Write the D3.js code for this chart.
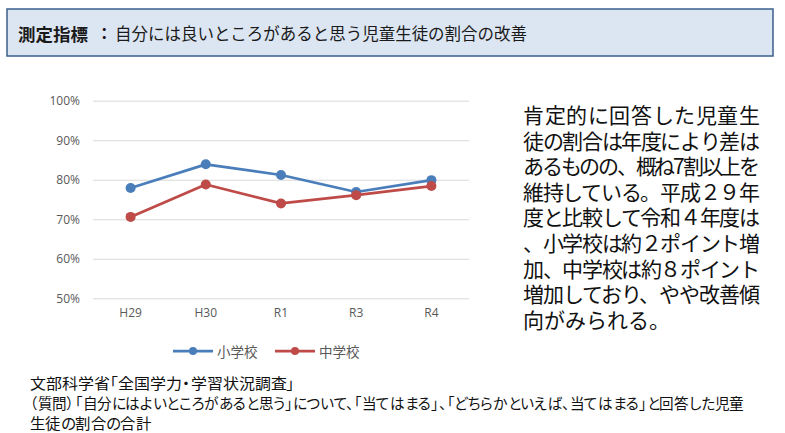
<!DOCTYPE html>
<html>
<head>
<meta charset="utf-8">
<script src="https://cdn.jsdelivr.net/npm/d3@7"></script>
<style>
  @font-face {
    font-family: "CJK Tight";
    src: local("Noto Sans CJK JP"), local("Noto Sans CJK JP Regular"), local("NotoSansCJKjp-Regular");
    ascent-override: 92%;
    descent-override: 24%;
    line-gap-override: 0%;
  }
  body { margin: 0; background: #fff; }
  text { font-family: "Noto Sans CJK JP", "Noto Sans", sans-serif; }
  .palt { font-feature-settings: "palt"; }
  .tight { font-family: "CJK Tight", "Noto Sans CJK JP", sans-serif; }
</style>
</head>
<body>
<div id="chart"></div>
<script>
// data
var years = ["H29", "H30", "R1", "R3", "R4"],
  elementary = [0.779, 0.839, 0.812, 0.769, 0.799],
  juniorHigh = [0.706, 0.788, 0.740, 0.761, 0.784],
  yTicks = [0.5, 0.6, 0.7, 0.8, 0.9, 1.0];

var seriesNames = ["小学校", "中学校"],
  seriesColors = ["#4A7EBB", "#BE4B48"];

var titleHead = "測定指標",
  titleBody = "自分には良いところがあると思う児童生徒の割合の改善";

var commentLines = [
  "肯定的に回答した児童生",
  "徒の割合は年度により差は",
  "あるものの、概ね7割以上を",
  "維持している。平成２９年",
  "度と比較して令和４年度は",
  "、小学校は約２ポイント増",
  "加、中学校は約８ポイント",
  "増加しており、やや改善傾",
  "向がみられる。"
];

var sourceLines = [
  "文部科学省「全国学力・学習状況調査」",
  "（質問）「自分にはよいところがあると思う」について、「当てはまる」、「どちらかといえば、当てはまる」と回答した児童",
  "生徒の割合の合計"
];

// layout
var W = 785, H = 433;
var plotL = 93, plotR = 469, plotT = 100.7, plotB = 298.3;

var svg = d3.select("#chart").append("svg")
  .attr("width", W)
  .attr("height", H);

svg.append("rect").attr("width", W).attr("height", H).attr("fill", "#fff");

// title box
svg.append("rect")
  .attr("x", 7).attr("y", 9)
  .attr("width", 766).attr("height", 47)
  .attr("fill", "#DCE6F2")
  .attr("stroke", "#3B5F8C")
  .attr("stroke-width", 1.5);

var title = svg.append("text")
  .attr("y", 33)
  .attr("dominant-baseline", "central")
  .attr("fill", "#1a1a1a");

title.append("tspan")
  .attr("x", 18)
  .attr("font-size", 17).attr("font-weight", "bold")
  .attr("textLength", 70).attr("lengthAdjust", "spacingAndGlyphs")
  .text(titleHead);
title.append("tspan")
  .attr("x", 96)
  .attr("font-size", 16.5).attr("font-weight", "bold")
  .text("：");
title.append("tspan")
  .attr("x", 115)
  .attr("font-size", 16.5)
  .attr("textLength", 412).attr("lengthAdjust", "spacingAndGlyphs")
  .text(titleBody);

// scales
var x = d3.scaleBand().domain(years).range([plotL, plotR]).padding(0);
var y = d3.scaleLinear().domain([0.5, 1.0]).range([plotB, plotT]);

// y axis w/ gridlines
var yAxis = d3.axisLeft(y)
  .tickValues(yTicks)
  .tickSize(-(plotR - plotL))
  .tickPadding(13)
  .tickFormat(d3.format(".0%"));

var gy = svg.append("g")
  .attr("transform", "translate(" + plotL + ",0)")
  .call(yAxis);
gy.select(".domain").remove();
gy.selectAll("line").attr("stroke", "#D9D9D9").attr("stroke-width", 1);
gy.selectAll("text")
  .attr("fill", "#595959")
  .attr("font-size", 12)
  .style("font-family", "'Open Sans', 'Noto Sans', sans-serif");

// x axis labels
var xAxis = d3.axisBottom(x).tickSize(0).tickPadding(10);
var gx = svg.append("g")
  .attr("transform", "translate(0," + plotB + ")")
  .call(xAxis);
gx.select(".domain").remove();
gx.selectAll("text")
  .attr("fill", "#595959")
  .attr("font-size", 12)
  .style("font-family", "'Open Sans', 'Noto Sans', sans-serif");

// series
var series = [elementary, juniorHigh];
var line = d3.line()
  .x(function(d, i) { return x(years[i]) + x.bandwidth() / 2; })
  .y(function(d) { return y(d); });

series.forEach(function(vals, s) {
  svg.append("path")
    .datum(vals)
    .attr("d", line)
    .attr("fill", "none")
    .attr("stroke", seriesColors[s])
    .attr("stroke-width", 2.75)
    .attr("stroke-linejoin", "round");

  svg.append("g").selectAll("circle")
    .data(vals)
    .enter().append("circle")
    .attr("cx", function(d, i) { return x(years[i]) + x.bandwidth() / 2; })
    .attr("cy", function(d) { return y(d); })
    .attr("r", 5)
    .attr("fill", seriesColors[s]);
});

// legend
var legendX = [173, 275], legendY = 351;
seriesNames.forEach(function(name, s) {
  var lg = svg.append("g").attr("transform", "translate(" + legendX[s] + "," + legendY + ")");
  lg.append("line")
    .attr("x1", 0).attr("x2", 40)
    .attr("stroke", seriesColors[s])
    .attr("stroke-width", 2.75);
  lg.append("circle").attr("cx", 20).attr("r", 4).attr("fill", seriesColors[s]);
  lg.append("text")
    .attr("x", 44)
    .attr("dominant-baseline", "central")
    .attr("font-size", 13.5)
    .attr("fill", "#595959")
    .text(name);
});

// comment text on the right, lines justified to one width
var comment = svg.append("text")
  .attr("class", "tight")
  .attr("font-size", 21)
  .attr("fill", "#111");

comment.selectAll("tspan")
  .data(commentLines)
  .enter().append("tspan")
  .attr("x", 523)
  .attr("y", function(d, i) { return 123 + i * 25.6; })   // baseline ~ center + 0.38em
  .attr("textLength", function(d, i) { return i < commentLines.length - 1 ? 237 : null; })
  .attr("lengthAdjust", "spacing")
  .text(function(d) { return d; });

// source notes
var sourceWidths = [265, 714, 121];
var source = svg.append("text")
  .attr("class", "palt tight")
  .attr("font-size", 15)
  .attr("fill", "#111");

source.selectAll("tspan")
  .data(sourceLines)
  .enter().append("tspan")
  .attr("x", 30)
  .attr("y", function(d, i) { return 389 + i * 20; })
  .attr("textLength", function(d, i) { return sourceWidths[i]; })
  .attr("lengthAdjust", "spacingAndGlyphs")
  .text(function(d) { return d; });
</script>
</body>
</html>
